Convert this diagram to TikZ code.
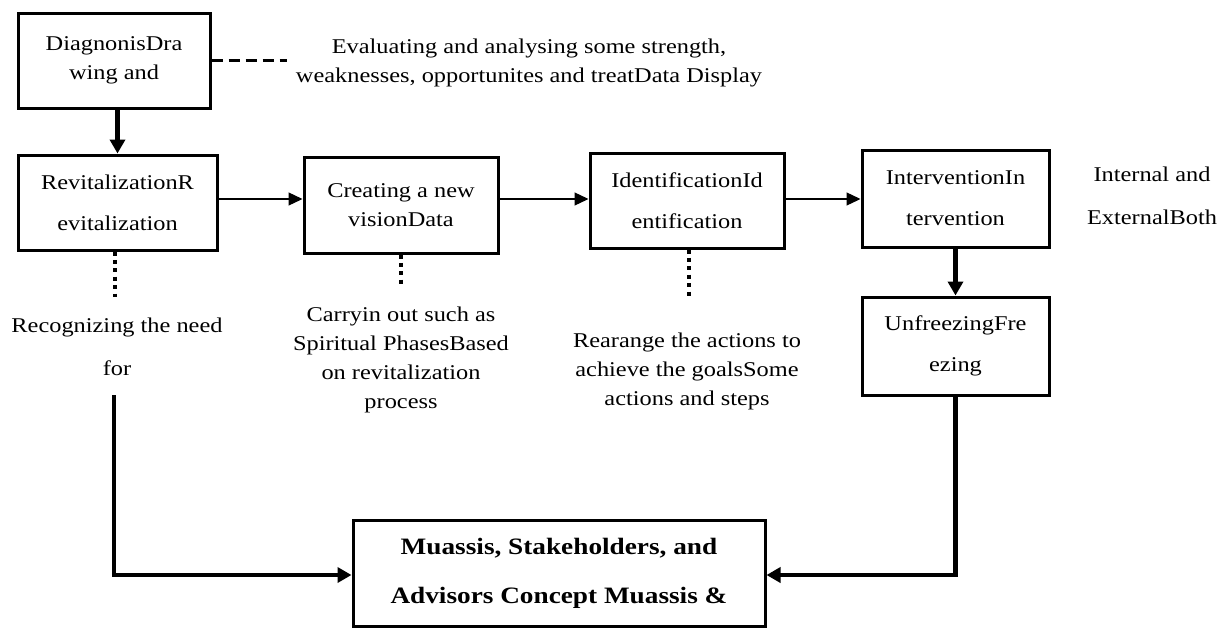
\documentclass[tikz,border=0pt]{standalone}
\usepackage{fontspec}
\setmainfont{Liberation Serif}[FakeStretch=1.16]
\usetikzlibrary{arrows.meta}
\tikzset{
  box/.style={draw, line width=3pt, inner sep=0pt, align=center, font=\fontsize{21}{29}\selectfont},
  wbox/.style={box, font=\fontsize{21}{41}\selectfont},
  txt/.style={inner sep=0pt, align=center, font=\fontsize{21}{29}\selectfont},
  wtxt/.style={txt, font=\fontsize{21}{43}\selectfont},
  thinarrow/.style={line width=1.3pt, -{Triangle[length=14pt,width=13pt]}},
  thickarrow/.style={line width=4.5pt, -{Triangle[length=14pt,width=15pt]}},
  thickline/.style={line width=4.5pt},
  dotline/.style={line width=4pt, dash pattern=on 4pt off 4.4pt},
  dashline/.style={line width=3pt, dash pattern=on 11pt off 6pt},
}
\begin{document}
\begin{tikzpicture}[x=1pt,y=-1pt]
\useasboundingbox (0,0) rectangle (1221,627);
% boxes
\node[box, minimum width=192pt, minimum height=95pt] (b1) at (114,60.5) {DiagnonisDra\\wing and};
\node[wbox, minimum width=199pt, minimum height=95pt] (b2) at (117.5,202.5) {RevitalizationR\\evitalization};
\node[box, minimum width=194pt, minimum height=96pt] (b3) at (401,205) {Creating a new\\visionData};
\node[wbox, minimum width=194pt, minimum height=95pt] (b4) at (687,200.5) {IdentificationId\\entification};
\node[wbox, minimum width=187pt, minimum height=97pt] (b5) at (955.5,198.5) {InterventionIn\\tervention};
\node[wbox, minimum width=187pt, minimum height=98pt] (b6) at (955.5,346) {UnfreezingFre\\ezing};
\node[box, minimum width=412pt, minimum height=106pt, font=\fontsize{23.5}{49}\bfseries] (b7) at (559,573) {Muassis, Stakeholders, and\\Advisors Concept Muassis \&};
% free texts
\node[txt] (eval) at (529,62.5) {Evaluating and analysing some strength,\\weaknesses, opportunites and treatData Display};
\node[wtxt] (recog) at (117,346.5) {Recognizing the need\\for};
\node[txt] (carry) at (401,359.5) {Carryin out such as\\Spiritual PhasesBased\\on revitalization\\process};
\node[txt] (rearr) at (687,371.5) {Rearange the actions to\\achieve the goalsSome\\actions and steps};
\node[wtxt] (intext) at (1152,195.5) {Internal and\\ExternalBoth};
% helper coordinates
\coordinate (yl) at (0,199);
\coordinate (dashend) at (287,60);
\coordinate (d2) at (115,297);
\coordinate (d3) at (401,285);
\coordinate (d4) at (689,297);
\coordinate (lstart) at (114,395);
\coordinate (ybot) at (0,575);
% connectors
\draw[thickarrow] (b1.south -| b2.north) -- (b2.north);
\draw[thinarrow] (b2.east |- yl) -- (b3.west |- yl);
\draw[thinarrow] (b3.east |- yl) -- (b4.west |- yl);
\draw[thinarrow] (b4.east |- yl) -- (b5.west |- yl);
\draw[thickarrow] (b5.south) -- (b6.north);
\draw[dashline] (b1.east |- dashend) -- (dashend);
\draw[dotline] (b2.south -| d2) -- (d2);
\draw[dotline] (b3.south) -- (d3);
\draw[dotline] (b4.south -| d4) -- (d4);
\draw[thickline] (lstart) -- (lstart |- ybot);
\draw[thickarrow] ([xshift=-2.25pt]lstart |- ybot) -- (b7.west |- ybot);
\draw[thickline] (b6.south) -- (b6.south |- ybot);
\draw[thickarrow] ([xshift=2.25pt]b6.south |- ybot) -- (b7.east |- ybot);
\end{tikzpicture}
\end{document}
